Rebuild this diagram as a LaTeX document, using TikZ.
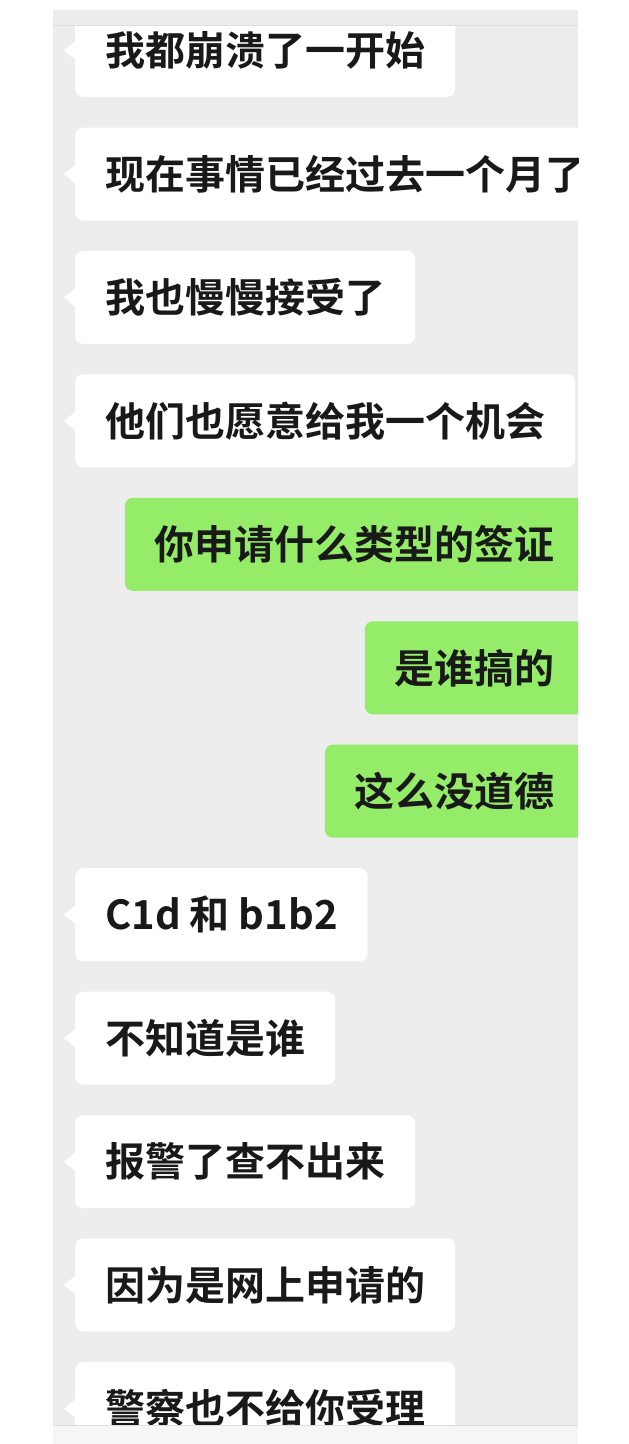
\documentclass[tikz,border=0pt]{standalone}
\usepackage{fontspec}
\setmainfont{Noto Sans CJK SC}[BoldFont={Noto Sans CJK SC Bold}]
\definecolor{chatgray}{RGB}{237,237,237}
\definecolor{wxgreen}{RGB}{149,236,105}
\definecolor{inkblack}{RGB}{25,25,25}
\definecolor{barline}{RGB}{222,222,222}
\definecolor{inputbar}{RGB}{246,246,246}

\begin{document}
\begin{tikzpicture}[
    x=1pt, y=-1pt,
    msg/.style={rounded corners=8pt, minimum height=93pt, inner xsep=30pt, inner ysep=0pt, text=inkblack, font=\fontsize{40}{48}\selectfont\bfseries},
    theirs/.style={msg, fill=white, anchor=west},
    mine/.style={msg, fill=wxgreen, anchor=east},
    tail/.style={fill=white}
]
\useasboundingbox (0,0) rectangle (629,1444);

% Chat window
\fill[chatgray] (53,10) rectangle (578,1425);

\begin{scope}
\clip (53,26) rectangle (578,1425);

% Received messages
\node[theirs] (m1) at (75,50.5) {我都崩溃了一开始};
\node[theirs] (m2) at (75,174) {现在事情已经过去一个月了};
\node[theirs] (m3) at (75,297.4) {我也慢慢接受了};
\node[theirs] (m4) at (75,420.9) {他们也愿意给我一个机会};

% Sent messages
\node[mine] (m5) at (585,544.3) {你申请什么类型的签证};
\node[mine] (m6) at (585,667.8) {是谁搞的};
\node[mine] (m7) at (585,791.2) {这么没道德};

% Received messages
\node[theirs] (m8) at (75,914.7) {C1d 和 b1b2};
\node[theirs] (m9) at (75,1038.1) {不知道是谁};
\node[theirs] (m10) at (75,1161.6) {报警了查不出来};
\node[theirs] (m11) at (75,1285) {因为是网上申请的};
\node[theirs] (m12) at (75,1408.5) {警察也不给你受理};

% Tails
\fill[tail] (m1.west) ++(0,-9) -- ++(-11,9) -- ++(11,9) -- cycle;
\fill[tail] (m2.west) ++(0,-9) -- ++(-11,9) -- ++(11,9) -- cycle;
\fill[tail] (m3.west) ++(0,-9) -- ++(-11,9) -- ++(11,9) -- cycle;
\fill[tail] (m4.west) ++(0,-9) -- ++(-11,9) -- ++(11,9) -- cycle;
\fill[tail] (m8.west) ++(0,-9) -- ++(-11,9) -- ++(11,9) -- cycle;
\fill[tail] (m9.west) ++(0,-9) -- ++(-11,9) -- ++(11,9) -- cycle;
\fill[tail] (m10.west) ++(0,-9) -- ++(-11,9) -- ++(11,9) -- cycle;
\fill[tail] (m11.west) ++(0,-9) -- ++(-11,9) -- ++(11,9) -- cycle;
\fill[tail] (m12.west) ++(0,-9) -- ++(-11,9) -- ++(11,9) -- cycle;
\end{scope}

% Bars
\draw[barline] (53,25.5) -- (578,25.5);
\fill[inputbar] (53,1425) rectangle (578,1444);
\draw[barline] (53,1425) -- (578,1425);

\end{tikzpicture}
\end{document}
